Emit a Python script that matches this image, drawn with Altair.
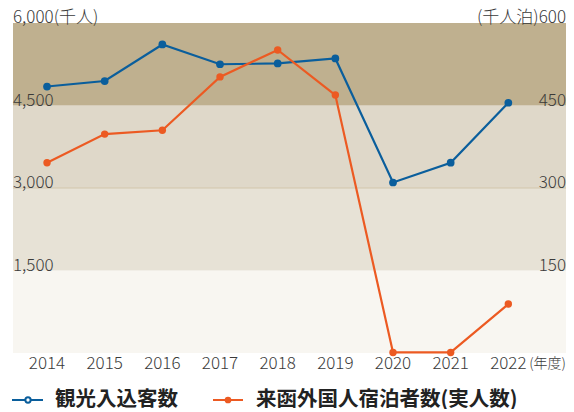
import altair as alt
import pandas as pd

years = [2014, 2015, 2016, 2017, 2018, 2019, 2020, 2021, 2022]
visitors = [4845, 4945, 5610, 5250, 5265, 5355, 3100, 3460, 4550]   # 千人 (left axis)
foreign = [346, 398, 405, 502, 551, 469, 1, 1, 89]                  # 千人泊 (right axis)

band_lo = [0, 1500, 3000, 4500]
band_hi = [1500, 3000, 4500, 6000]
band_col = ["#f8f6f1", "#e7e2d6", "#dfd8c9", "#bfb08f"]

left_vals = [1500, 3000, 4500, 6000]
left_text = ["1,500", "3,000", "4,500", "6,000(千人)"]
right_vals = [150, 300, 450, 600]
right_text = ["150", "300", "450", "(千人泊)600"]

W, H = 553, 330
FONT = "Noto Sans CJK JP"
BLUE = "#0a5e9c"
ORANGE = "#ec5a22"
LABEL = "#3a3a3a"

xs = alt.Scale(domain=[2013.41, 2023.0])
yl = alt.Scale(domain=[0, 6000])
yr = alt.Scale(domain=[0, 600])

df = pd.DataFrame({"year": years, "visitors": visitors, "foreign": foreign})
bands = pd.DataFrame({"lo": band_lo, "hi": band_hi, "col": band_col})
ldf = pd.DataFrame({"v": left_vals, "t": left_text})
rdf = pd.DataFrame({"v": right_vals, "t": right_text})
xdf = pd.DataFrame({"year": years, "t": [str(y) for y in years]})

band_layer = alt.Chart(bands).mark_rect().encode(
    x=alt.value(0), x2=alt.value(W),
    y=alt.Y("lo:Q", scale=yl, axis=None), y2="hi:Q",
    color=alt.Color("col:N", scale=None),
)
rule_layer = alt.Chart(pd.DataFrame({"v": [3000]})).mark_rule(color="#d2c6ab", strokeWidth=1).encode(
    x=alt.value(0), x2=alt.value(W), y=alt.Y("v:Q", scale=yl, axis=None)
)

base = alt.Chart(df)
blue_line = base.mark_line(color=BLUE, strokeWidth=2.2).encode(
    x=alt.X("year:Q", scale=xs, axis=None), y=alt.Y("visitors:Q", scale=yl, axis=None))
blue_pts = base.mark_circle(color=BLUE, opacity=1, size=60).encode(
    x=alt.X("year:Q", scale=xs, axis=None), y=alt.Y("visitors:Q", scale=yl, axis=None))
or_line = base.mark_line(color=ORANGE, strokeWidth=2.2).encode(
    x=alt.X("year:Q", scale=xs, axis=None), y=alt.Y("foreign:Q", scale=yr, axis=None))
or_pts = base.mark_circle(color=ORANGE, opacity=1, size=55).encode(
    x=alt.X("year:Q", scale=xs, axis=None), y=alt.Y("foreign:Q", scale=yr, axis=None))

left_lab = alt.Chart(ldf).mark_text(align="left", baseline="alphabetic", dy=0, fontSize=17,
                                    font=FONT, fontWeight=300, color=LABEL).encode(
    x=alt.value(0), y=alt.Y("v:Q", scale=yl, axis=None), text="t:N")
right_lab = alt.Chart(rdf).mark_text(align="right", baseline="alphabetic", dy=0, fontSize=17,
                                     font=FONT, fontWeight=300, color=LABEL).encode(
    x=alt.value(W), y=alt.Y("v:Q", scale=yr, axis=None), text="t:N")
x_lab = alt.Chart(xdf).mark_text(align="center", baseline="middle", fontSize=17,
                                 font=FONT, fontWeight=300, color=LABEL).encode(
    x=alt.X("year:Q", scale=xs, axis=None), y=alt.value(H + 11), text="t:N")
unit_lab = alt.Chart(pd.DataFrame({"t": ["(年度)"]})).mark_text(
    align="right", baseline="middle", fontSize=14, font=FONT, fontWeight=300, color=LABEL).encode(
    x=alt.value(W), y=alt.value(H + 11), text="t:N")

# legend
LY = 377
leg_blue_line = alt.Chart(pd.DataFrame({"a": [0]})).mark_rule(color=BLUE, strokeWidth=2).encode(
    x=alt.value(-1), x2=alt.value(30), y=alt.value(LY))
leg_blue_pt = alt.Chart(pd.DataFrame({"a": [0]})).mark_point(
    shape="circle", filled=True, fill="white", stroke=BLUE, strokeWidth=2, size=28, opacity=1).encode(
    x=alt.value(15), y=alt.value(LY))
leg_or_line = alt.Chart(pd.DataFrame({"a": [0]})).mark_rule(color=ORANGE, strokeWidth=2).encode(
    x=alt.value(200), x2=alt.value(230), y=alt.value(LY))
leg_or_pt = alt.Chart(pd.DataFrame({"a": [0]})).mark_circle(color=ORANGE, size=45, opacity=1).encode(
    x=alt.value(215), y=alt.value(LY))
leg_text = alt.Chart(pd.DataFrame({"t": ["観光入込客数", "来函外国人宿泊者数(実人数)"],
                                   "px": [42, 243]})).mark_text(
    align="left", baseline="middle", fontSize=20.5, fontWeight="bold", font=FONT, color="#222222").encode(
    x=alt.X("px:Q", scale=None), y=alt.value(LY), text="t:N")

chart = alt.layer(
    band_layer, rule_layer, blue_line, blue_pts, or_line, or_pts,
    left_lab, right_lab, x_lab, unit_lab,
    leg_blue_line, leg_blue_pt, leg_or_line, leg_or_pt, leg_text,
).resolve_scale(y="independent").properties(
    width=W, height=H,
    padding={"left": 5, "top": 15, "right": 0, "bottom": 56},
    autosize=alt.AutoSizeParams(type="none"),
).configure_view(stroke=None)

chart.save("out.html", embed_options={"renderer": "svg", "actions": False})
